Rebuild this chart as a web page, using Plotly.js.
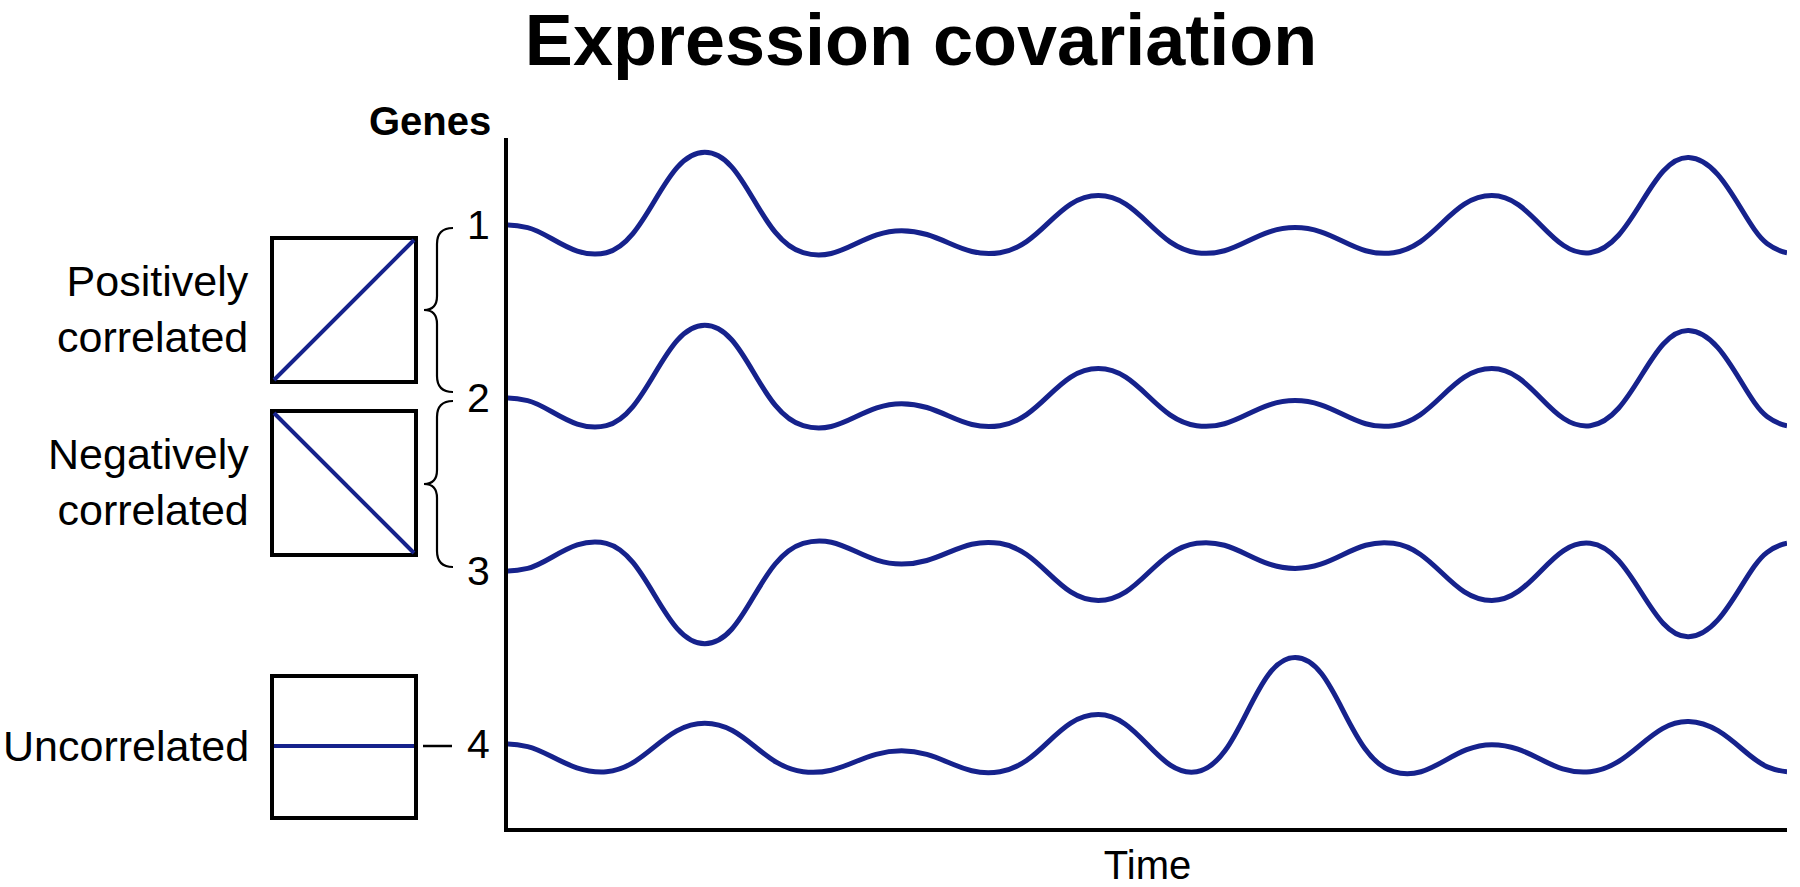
<!DOCTYPE html>
<html>
<head>
<meta charset="utf-8">
<script src="https://cdn.plot.ly/plotly-3.0.1.min.js"></script>
<style>
  html, body { margin: 0; padding: 0; background: #fff; }
  #chart { width: 1800px; height: 887px; }
</style>
</head>
<body>
<div id="chart"></div>
<script>
// ---- data ----
const timePoints = [0, 0.2, 1, 2, 3, 4, 5, 6, 7, 8, 9, 10, 11, 12, 12.8, 13];
const geneNames = ['1', '2', '3', '4'];
const geneRowLevel = [40, 30, 20, 10];
// expression relative to each gene's starting level (wave extrema, plus the flat ends)
const gene1 = [0, -0.15, -1.6, 4.2, -1.6, -0.33, -1.6, 1.7, -1.6, -0.15, -1.6, 1.7, -1.6, 3.9, -1.08, -1.6];
const gene2 = [0, -0.15, -1.6, 4.2, -1.6, -0.33, -1.6, 1.7, -1.6, -0.15, -1.6, 1.7, -1.6, 3.9, -1.08, -1.6];
const gene3 = [0, 0.15, 1.6, -4.2, 1.6, 0.4, 1.6, -1.7, 1.6, 0.15, 1.6, -1.7, 1.6, -3.8, 1.09, 1.6];
const gene4 = [0, -0.15, -1.6, 1.2, -1.6, -0.39, -1.6, 1.7, -1.6, 5.0, -1.6, -0.04, -1.6, 1.3, -1.32, -1.6];
const relationLabels = ['Positively<br>correlated', 'Negatively<br>correlated', 'Uncorrelated'];
const titleText = 'Expression covariation';
const yTitleText = 'Genes';
const xTitleText = 'Time';

// ---- layout helpers ----
const W = 1800, H = 887;
const M = { l: 508, r: 13, t: 138, b: 59 };
const PW = W - M.l - M.r, PH = H - M.t - M.b;
const xp = px => (px - M.l) / PW;
const yp = py => (H - M.b - py) / PH;

const BLUE = '#16228c';
const FONT = 'Liberation Sans, Arial, Helvetica, sans-serif';

const series = [gene1, gene2, gene3, gene4];
const traces = series.map((vals, i) => ({
  type: 'scatter',
  mode: 'lines',
  x: timePoints,
  y: vals.map(v => geneRowLevel[i] + v),
  name: 'Gene ' + geneNames[i],
  line: { color: BLUE, width: 5, shape: 'spline', smoothing: 1.25 },
  hoverinfo: 'skip',
  showlegend: false
}));

// boxes illustrating correlation
const boxes = [
  { x0: 272, x1: 416, y0: 238, y1: 382 },
  { x0: 272, x1: 416, y0: 411, y1: 555 },
  { x0: 272, x1: 416, y0: 676, y1: 818 }
];
const shapes = [];
boxes.forEach(b => {
  shapes.push({ type: 'rect', xref: 'paper', yref: 'paper',
    x0: xp(b.x0), x1: xp(b.x1), y0: yp(b.y1), y1: yp(b.y0),
    line: { color: '#000', width: 4 }, fillcolor: 'rgba(0,0,0,0)' });
});
// inner relation lines
shapes.push({ type: 'line', xref: 'paper', yref: 'paper',
  x0: xp(274), y0: yp(380), x1: xp(414), y1: yp(240), line: { color: BLUE, width: 4 } });
shapes.push({ type: 'line', xref: 'paper', yref: 'paper',
  x0: xp(274), y0: yp(413), x1: xp(414), y1: yp(553), line: { color: BLUE, width: 4 } });
shapes.push({ type: 'line', xref: 'paper', yref: 'paper',
  x0: xp(274), y0: yp(746), x1: xp(414), y1: yp(746), line: { color: BLUE, width: 4 } });
// dash before "4"
shapes.push({ type: 'line', xref: 'paper', yref: 'paper',
  x0: xp(423), y0: yp(746), x1: xp(452), y1: yp(746), line: { color: '#000', width: 2.5 } });

// curly braces
function bracePath(top, bottom) {
  const xe = 453, xs = 437, xt = 424, mid = (top + bottom) / 2;
  const P = (x, y) => xp(x).toFixed(5) + ',' + yp(y).toFixed(5);
  return 'M' + P(xe, top) +
    ' Q' + P(xs, top) + ' ' + P(xs, top + 16) +
    ' L' + P(xs, mid - 14) +
    ' Q' + P(xs, mid) + ' ' + P(xt, mid) +
    ' Q' + P(xs, mid) + ' ' + P(xs, mid + 14) +
    ' L' + P(xs, bottom - 16) +
    ' Q' + P(xs, bottom) + ' ' + P(xe, bottom);
}
shapes.push({ type: 'path', xref: 'paper', yref: 'paper', path: bracePath(228, 392),
  line: { color: '#000', width: 2.2 } });
shapes.push({ type: 'path', xref: 'paper', yref: 'paper', path: bracePath(401, 567),
  line: { color: '#000', width: 2.2 } });

const labelY = [309, 482, 746];
const annotations = relationLabels.map((t, i) => ({
  text: t, xref: 'paper', yref: 'paper',
  x: xp(251), y: yp(labelY[i]), xanchor: 'right', yanchor: 'middle', align: 'right',
  showarrow: false, font: { family: FONT, size: 43, color: '#000' }
}));
annotations.push({
  text: '<b>' + yTitleText + '</b>', xref: 'paper', yref: 'paper',
  x: xp(493), y: yp(121), xanchor: 'right', yanchor: 'middle',
  showarrow: false, font: { family: FONT, size: 40, color: '#000' }
});

const layout = {
  width: W, height: H,
  margin: M,
  paper_bgcolor: '#fff', plot_bgcolor: '#fff',
  title: {
    text: '<b>' + titleText + '</b>',
    font: { family: FONT, size: 72, color: '#000' },
    x: 921 / W, xref: 'container', xanchor: 'center',
    y: 1 - 40 / H, yref: 'container', yanchor: 'middle'
  },
  xaxis: {
    range: [0, 13], showgrid: false, zeroline: false,
    showline: true, linecolor: '#000', linewidth: 4,
    ticks: '', showticklabels: false, fixedrange: true,
    title: { text: xTitleText, font: { family: FONT, size: 40, color: '#000' }, standoff: 22 }
  },
  yaxis: {
    range: [5.145, 45.03], showgrid: false, zeroline: false,
    showline: true, linecolor: '#000', linewidth: 4,
    ticks: '', tickmode: 'array', tickvals: geneRowLevel, ticktext: geneNames,
    tickfont: { family: FONT, size: 41, color: '#000' },
    ticklabelstandoff: 6, fixedrange: true
  },
  shapes: shapes,
  annotations: annotations,
  showlegend: false
};

Plotly.newPlot('chart', traces, layout, { displayModeBar: false, staticPlot: true });
</script>
</body>
</html>
